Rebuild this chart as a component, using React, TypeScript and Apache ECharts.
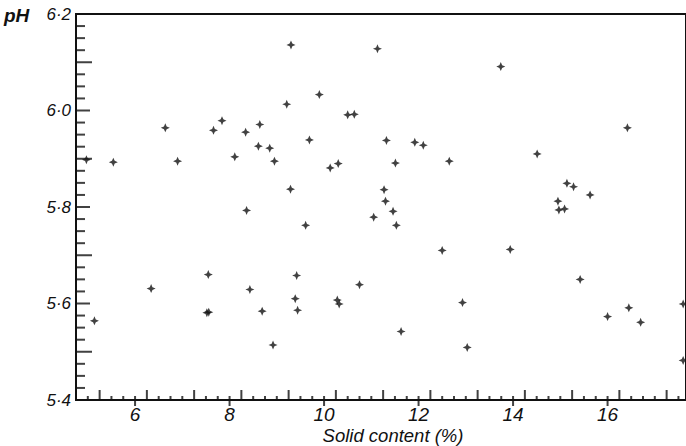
import React, { useEffect, useRef } from 'react';
import * as echarts from 'echarts';

// Solid content (%) and pH readings
const solidContent = [
  4.97, 5.54, 6.64, 6.90, 7.66, 7.84, 8.11, 8.34, 8.64, 8.61, 8.85, 8.95, 8.36,
  9.30, 11.13, 9.90, 9.21, 10.50, 10.64, 9.69, 11.32, 11.92, 12.10, 10.13, 10.30,
  11.51, 12.65, 9.29, 11.27, 11.30, 11.46, 13.74, 16.42, 14.51, 15.14, 15.28,
  15.63, 14.95, 14.97, 15.09, 7.55, 6.34, 8.43, 7.52, 7.56, 8.69, 5.14, 8.92,
  11.05, 11.53, 9.61, 12.50, 9.42, 10.75, 9.39, 10.28, 10.32, 9.44, 12.93, 11.63,
  13.03, 13.94, 15.42, 16.45, 16.00, 16.70, 17.60, 17.60,
];
const phValues = [
  5.898, 5.893, 5.964, 5.895, 5.959, 5.979, 5.904, 5.955, 5.971, 5.926, 5.922, 5.895, 5.793,
  6.136, 6.128, 6.033, 6.013, 5.991, 5.992, 5.939, 5.938, 5.934, 5.928, 5.881, 5.890,
  5.891, 5.895, 5.837, 5.836, 5.812, 5.791, 6.091, 5.964, 5.910, 5.849, 5.842,
  5.825, 5.812, 5.794, 5.796, 5.660, 5.631, 5.629, 5.581, 5.582, 5.584, 5.564, 5.514,
  5.779, 5.762, 5.762, 5.710, 5.658, 5.639, 5.610, 5.607, 5.599, 5.586, 5.602, 5.542,
  5.509, 5.712, 5.650, 5.591, 5.573, 5.561, 5.599, 5.482,
];

// Axis tick labels / tick spacing
const xLabelValues = [6, 8, 10, 12, 14, 16];
const X_MIN = 4.75;
const X_MAX = 17.66;
const X_MINOR_STEP = 0.25;
const Y_MIN = 5.4;
const Y_MAX = 6.2;
const Y_LABEL_STEP = 0.2;
const Y_MINOR_STEP = 0.025;

const FONT = '"Liberation Sans", Arial, sans-serif';
const INK = '#111';

// tick positions on the y axis, grouped by tick kind
function yTickPositions(kind: 'minor' | 'tenth' | 'label') {
  const out: number[][] = [];
  const n = Math.round((Y_MAX - Y_MIN) / Y_MINOR_STEP);
  for (let k = 0; k < n; k++) {
    const v = +(Y_MIN + k * Y_MINOR_STEP).toFixed(4);
    const kk = k % 8 === 0 ? 'label' : k % 4 === 0 ? 'tenth' : 'minor';
    if (kk === kind) out.push([X_MIN, v]);
  }
  return out;
}
// tick positions on the x axis, grouped by tick kind
function xTickPositions(kind: 'minor' | 'long') {
  const out: number[][] = [];
  const n = Math.floor((X_MAX - X_MIN) / X_MINOR_STEP);
  for (let k = 1; k <= n; k++) {
    const v = +(X_MIN + k * X_MINOR_STEP).toFixed(4);
    const frac = +(v - Math.floor(v)).toFixed(4);
    const kk = frac === 0.25 ? 'long' : 'minor';
    if (kk === kind) out.push([v, Y_MIN]);
  }
  return out;
}

function tickSeries(data: number[][], size: number[], offset: number[]) {
  return {
    type: 'scatter',
    silent: true,
    clip: false,
    data,
    symbol: 'rect',
    symbolSize: size,
    symbolOffset: offset,
    itemStyle: { color: INK },
    z: 3,
  };
}

export default function App() {
  const ref = useRef<HTMLDivElement>(null);

  useEffect(() => {
    if (!ref.current) return;
    const chart = echarts.init(ref.current, null, { renderer: 'svg' });
    const data = solidContent.map((x, i) => [x, phValues[i]]);

    chart.setOption({
      animation: false,
      backgroundColor: '#fff',
      grid: {
        left: 76,
        right: -2,
        top: 14,
        bottom: 46,
        containLabel: false,
        show: true,
        borderColor: INK,
        borderWidth: 2,
        backgroundColor: 'transparent',
      },
      xAxis: {
        type: 'value',
        min: X_MIN,
        max: X_MAX,
        splitLine: { show: false },
        axisLine: { show: false },
        axisTick: { show: false },
        axisLabel: {
          customValues: xLabelValues,
          margin: 5,
          color: INK,
          fontSize: 19,
          fontStyle: 'italic',
          fontFamily: FONT,
        },
      },
      yAxis: {
        type: 'value',
        min: Y_MIN,
        max: Y_MAX,
        interval: Y_LABEL_STEP,
        splitLine: { show: false },
        axisLine: { show: false },
        axisTick: { show: false },
        axisLabel: {
          margin: 5,
          color: INK,
          fontSize: 17,
          fontStyle: 'italic',
          fontFamily: FONT,
          formatter: (v: number) => v.toFixed(1).replace('.', '·'),
        },
      },
      graphic: [
        {
          type: 'text',
          left: 4,
          top: 6,
          style: {
            text: 'pH',
            fill: INK,
            font: `italic bold 19px ${FONT}`,
          },
        },
        {
          type: 'text',
          x: 393,
          y: 435,
          style: {
            text: 'Solid content (%)',
            fill: INK,
            font: `italic 18.5px ${FONT}`,
            align: 'center',
            verticalAlign: 'middle',
          },
        },
      ],
      series: [
        tickSeries(yTickPositions('minor'), [9, 2], [4.5, 0]),
        tickSeries(yTickPositions('tenth'), [16, 2], [8, 0]),
        tickSeries(yTickPositions('label'), [14, 2], [7, 0]),
        tickSeries(xTickPositions('minor'), [2, 4], [0, -2]),
        tickSeries(xTickPositions('long'), [2, 10], [0, -5]),
        tickSeries(xLabelValues.map((v) => [v, Y_MIN]), [2, 6], [0, 3]),
        {
          type: 'scatter',
          data,
          clip: false,
          symbol: 'path://M5,0 L6.5,3.5 L10,5 L6.5,6.5 L5,10 L3.5,6.5 L0,5 L3.5,3.5 Z',
          symbolSize: 9,
          itemStyle: { color: INK },
          z: 4,
        },
      ],
    });

    return () => chart.dispose();
  }, []);

  return (
    <div
      ref={ref}
      style={{ position: 'absolute', left: 0, top: 0, width: 686, height: 446, background: '#fff' }}
    />
  );
}
